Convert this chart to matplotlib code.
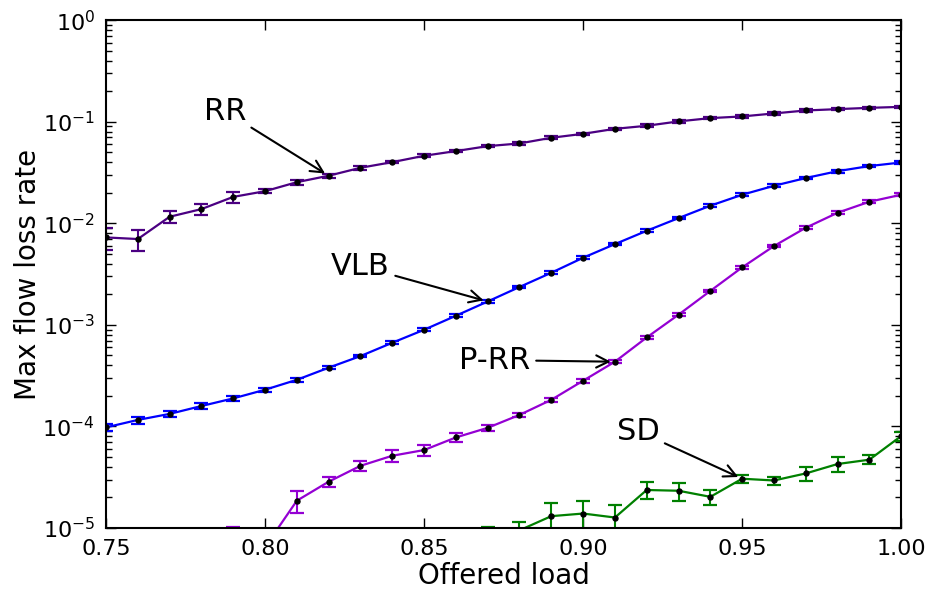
import matplotlib
matplotlib.use("Agg")
import matplotlib.pyplot as plt
import numpy as np

plt.rcParams['font.family'] = ['DejaVu Sans']
plt.rcParams['mathtext.fontset'] = 'dejavusans'

load = [0.75, 0.76, 0.77, 0.78, 0.79, 0.80, 0.81, 0.82, 0.83, 0.84, 0.85, 0.86, 0.87,
        0.88, 0.89, 0.90, 0.91, 0.92, 0.93, 0.94, 0.95, 0.96, 0.97, 0.98, 0.99, 1.00]

rr = [7.26e-3, 7.0e-3, 1.16e-2, 1.38e-2, 1.82e-2, 2.07e-2, 2.54e-2, 2.94e-2, 3.52e-2,
      4.0e-2, 4.62e-2, 5.14e-2, 5.75e-2, 6.11e-2, 6.95e-2, 7.6e-2, 8.51e-2, 9.12e-2,
      0.1007, 0.1085, 0.1127, 0.1206, 0.129, 0.133, 0.137, 0.140]
rr_err = [0.24, 0.24, 0.14, 0.12, 0.12, 0.05, 0.06, 0.04, 0.04, 0.03, 0.03, 0.03, 0.03,
          0.03, 0.03, 0.03, 0.03, 0.03, 0.03, 0.03, 0.03, 0.03, 0.03, 0.03, 0.03, 0.03]

vlb = [9.8e-5, 1.16e-4, 1.33e-4, 1.59e-4, 1.89e-4, 2.30e-4, 2.88e-4, 3.79e-4, 4.93e-4,
       6.67e-4, 8.95e-4, 1.23e-3, 1.70e-3, 2.36e-3, 3.26e-3, 4.58e-3, 6.24e-3, 8.44e-3,
       1.125e-2, 1.49e-2, 1.91e-2, 2.34e-2, 2.79e-2, 3.26e-2, 3.66e-2, 3.97e-2]
vlb_err = [0.07, 0.08, 0.07, 0.06, 0.05, 0.05, 0.04, 0.03, 0.03, 0.03, 0.03, 0.03, 0.03,
           0.03, 0.03, 0.03, 0.03, 0.03, 0.03, 0.03, 0.03, 0.03, 0.03, 0.03, 0.03, 0.03]

prr_load = [0.79, 0.80, 0.81, 0.82, 0.83, 0.84, 0.85, 0.86, 0.87, 0.88, 0.89, 0.90, 0.91,
            0.92, 0.93, 0.94, 0.95, 0.96, 0.97, 0.98, 0.99, 1.00]
prr = [8.8e-6, 6.5e-6, 1.86e-5, 2.86e-5, 4.10e-5, 5.15e-5, 5.86e-5, 7.80e-5, 9.70e-5,
       1.30e-4, 1.83e-4, 2.82e-4, 4.34e-4, 7.52e-4, 1.26e-3, 2.16e-3, 3.68e-3, 5.97e-3,
       9.04e-3, 1.27e-2, 1.63e-2, 1.91e-2]
prr_err = [0.16, 0.2, 0.25, 0.11, 0.11, 0.13, 0.12, 0.10, 0.06, 0.05, 0.04, 0.04, 0.03,
           0.03, 0.03, 0.03, 0.03, 0.03, 0.03, 0.03, 0.03, 0.03]

sd_load = [0.87, 0.88, 0.89, 0.90, 0.91, 0.92, 0.93, 0.94, 0.95, 0.96, 0.97, 0.98, 0.99, 1.00]
sd = [8.5e-6, 9.5e-6, 1.31e-5, 1.39e-5, 1.27e-5, 2.37e-5, 2.33e-5, 2.03e-5, 3.06e-5,
      2.94e-5, 3.45e-5, 4.27e-5, 4.71e-5, 8.05e-5]
sd_err = [0.2, 0.2, 0.34, 0.32, 0.34, 0.19, 0.2, 0.17, 0.1, 0.09, 0.15, 0.17, 0.1, 0.1]

series = [
    ("RR", load, rr, rr_err, "#4b0082"),
    ("VLB", load, vlb, vlb_err, "#0000ff"),
    ("P-RR", prr_load, prr, prr_err, "#9400d3"),
    ("SD", sd_load, sd, sd_err, "#008000"),
]

fig = plt.figure(figsize=(9.3, 5.92), dpi=100)
ax = fig.add_axes([0.114, 0.108, 0.855, 0.858])

for name, x, y, e, c in series:
    y = np.array(y)
    err = y * np.array(e)
    ax.errorbar(x, y, yerr=err, color=c, ecolor=c, lw=1.6, elinewidth=1.5,
                capsize=4.7, capthick=1.6, marker='o', ms=3.6, mfc='k', mec='k',
                zorder=2)

ax.set_yscale('log')
ax.set_xlim(0.75, 1.00)
ax.set_ylim(1e-5, 1e0)
ax.set_xticks([0.75, 0.80, 0.85, 0.90, 0.95, 1.00])
ax.set_xticklabels(['0.75', '0.80', '0.85', '0.90', '0.95', '1.00'])
ax.tick_params(axis='both', which='both', direction='in', top=True, right=True,
               labelsize=16, pad=8)
ax.tick_params(which='major', length=7, width=1)
ax.tick_params(which='minor', length=4, width=1)
ax.xaxis.set_minor_locator(matplotlib.ticker.NullLocator())
for s in ax.spines.values():
    s.set_linewidth(1.5)

ax.set_xlabel('Offered load', fontsize=20, labelpad=2)
ax.set_ylabel('Max flow loss rate', fontsize=20, labelpad=0)

arrow = dict(arrowstyle='->', lw=1.5, color='k', mutation_scale=22, shrinkA=2, shrinkB=3)
ax.annotate('RR', xy=(0.82, 2.94e-2), xytext=(0.7874, 0.127), fontsize=22,
            ha='center', va='center', arrowprops=arrow)
ax.annotate('VLB', xy=(0.87, 1.70e-3), xytext=(0.830, 3.79e-3), fontsize=22,
            ha='center', va='center', arrowprops=arrow)
ax.annotate('P-RR', xy=(0.91, 4.34e-4), xytext=(0.8723, 4.5e-4), fontsize=22,
            ha='center', va='center', arrowprops=arrow)
ax.annotate('SD', xy=(0.95, 3.06e-5), xytext=(0.9173, 9.0e-5), fontsize=22,
            ha='center', va='center', arrowprops=arrow)

fig.savefig('out.png', dpi=100, facecolor='white')
